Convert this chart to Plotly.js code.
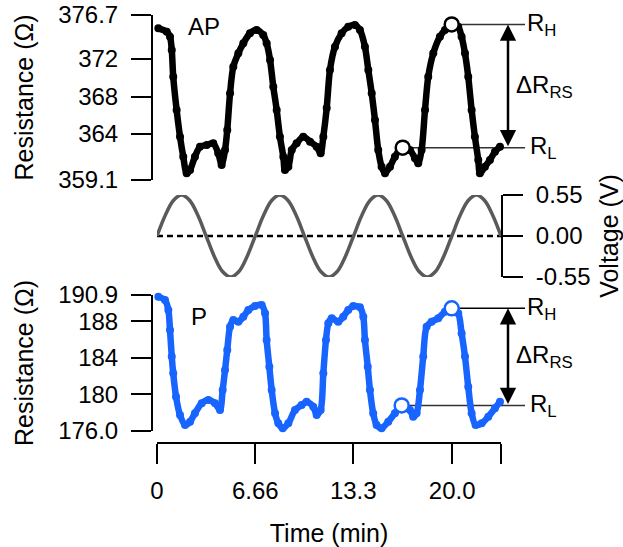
<!DOCTYPE html>
<html>
<head>
<meta charset="utf-8">
<script src="https://cdn.plot.ly/plotly-3.0.1.min.js"></script>
<style>html,body{margin:0;padding:0;background:#fff;}#chart{width:623px;height:547px;}</style>
</head>
<body>
<div id="chart"></div>
<script>
// ---- Data ----
const apTime = [0.09,0.66,0.88,1.00,1.10,1.33,1.56,1.78,2.01,2.24,
  2.57,2.91,3.37,3.81,4.15,4.38,4.61,4.76,4.95,5.17,
  5.51,5.85,6.30,6.75,7.20,7.43,7.66,7.88,8.11,8.33,
  8.56,8.67,8.90,9.13,9.46,9.91,10.37,10.82,11.09,11.27,
  11.50,11.72,12.06,12.51,12.96,13.41,13.75,14.09,14.32,14.55,
  14.77,14.99,15.22,15.45,15.79,16.12,16.58,17.14,17.48,17.70,
  17.93,18.16,18.38,18.72,19.17,19.51,19.97,20.41,20.64,20.87,
  21.09,21.32,21.54,21.77,21.88,22.22,22.56,22.90,23.24];
const apRes = [375.28,374.92,374.39,372.97,370.12,366.57,363.72,361.59,359.81,360.17,
  361.59,362.65,362.83,363.01,361.95,360.70,362.30,364.43,368.35,371.19,
  372.61,373.68,374.75,375.10,374.57,373.68,371.90,369.05,366.57,363.72,
  361.59,360.17,360.52,362.30,363.01,363.72,363.19,362.65,361.95,363.72,
  366.78,370.83,373.32,374.75,375.45,375.63,375.10,373.32,370.83,368.35,
  365.50,362.30,360.52,359.81,360.52,361.59,362.59,362.30,361.41,360.88,
  362.30,366.57,370.12,372.61,374.39,375.10,375.74,375.45,374.39,372.61,
  370.12,366.57,363.72,361.23,359.81,360.52,361.23,362.12,362.65];

const pTime = [0.09,0.54,0.77,0.88,1.00,1.10,1.29,1.56,1.90,2.24,
  2.57,3.03,3.48,3.93,4.27,4.45,4.61,4.76,4.95,5.17,
  5.51,5.85,6.19,6.64,7.09,7.32,7.43,7.61,7.77,8.00,
  8.22,8.52,8.90,9.35,9.80,10.14,10.59,10.82,11.09,11.27,
  11.45,11.61,11.84,12.28,12.62,12.96,13.30,13.75,13.98,14.09,
  14.28,14.43,14.65,14.88,15.22,15.67,16.12,16.58,17.14,17.36,
  17.59,17.82,18.04,18.27,18.61,19.06,19.51,19.97,20.41,20.64,
  20.87,21.09,21.32,21.59,22.00,22.45,22.90,23.24];
const pRes = [190.71,190.35,189.26,187.07,184.15,182.32,179.76,177.75,176.66,177.02,
  177.94,179.04,179.40,179.04,178.30,180.49,182.68,184.87,187.43,188.16,
  187.97,188.52,189.26,189.69,189.80,188.90,185.97,183.05,180.49,177.94,
  176.84,176.30,176.84,178.30,178.85,179.21,178.66,177.75,178.30,182.32,
  185.97,187.80,188.35,187.97,188.52,189.26,189.69,189.55,188.52,185.97,
  183.05,180.49,177.94,176.66,176.30,177.02,177.94,178.85,178.30,177.57,
  177.94,180.49,184.15,187.43,187.97,188.35,189.07,189.44,188.90,186.70,
  184.15,180.85,177.94,176.66,176.84,177.57,178.49,179.21];

const voltTime = [0,0.555,1.11,1.665,2.22,2.775,3.33,3.885,4.44,4.995,5.55,6.105,
  6.66,7.215,7.77,8.325,8.88,9.435,9.99,10.545,11.1,11.655,12.21,12.765,
  13.32,13.875,14.43,14.985,15.54,16.095,16.65,17.205,17.76,18.315,18.87,19.425,
  19.98,20.535,21.09,21.645,22.2,22.755,23.31];
const voltValue = [0,0.275,0.476,0.55,0.476,0.275,0,-0.275,-0.476,-0.55,-0.476,-0.275,
  0,0.275,0.476,0.55,0.476,0.275,0,-0.275,-0.476,-0.55,-0.476,-0.275,
  0,0.275,0.476,0.55,0.476,0.275,0,-0.275,-0.476,-0.55,-0.476,-0.275,
  0,0.275,0.476,0.55,0.476,0.275,0];
const zeroTime = [0, 23.31];
const zeroValue = [0, 0];

// marked points R_H / R_L
const apMarkTime = [19.97, 16.65];
const apMarkRes = [375.70, 362.55];
const pMarkTime = [19.97, 16.58];
const pMarkRes = [189.44, 178.80];

// tick labels
const xTickVals = [0, 6.66, 13.3, 20.0, 23.31];
const xTickText = ["0", "6.66", "13.3", "20.0", " "];
const apTickVals = [359.1, 364, 368, 372, 376.7];
const apTickText = ["359.1", "364", "368", "372", "376.7"];
const pTickVals = [176.0, 180, 184, 188, 190.9];
const pTickText = ["176.0", "180", "184", "188", "190.9"];
const vTickVals = [-0.55, 0, 0.55];
const vTickText = ["-0.55", "0.00", "0.55"];

// ---- Layout geometry ----
const W = 623, H = 547;
const FONT = "Liberation Sans, Arial, Helvetica, sans-serif";
const FS = 24;
const TFS = 25;
const xDomain = [157/W, 501/W];
const xRange = [0, 23.31];
function xPaper(t){ return xDomain[0] + (t - xRange[0])/(xRange[1]-xRange[0])*(xDomain[1]-xDomain[0]); }
const BLUE = "#1764ff";

const traces = [
  {x: apTime, y: apRes, xaxis:'x', yaxis:'y', mode:'lines+markers', type:'scatter',
   line:{color:'#000', width:6.5, shape:'spline', smoothing:0.8}, marker:{color:'#000', size:8}, cliponaxis:false, hoverinfo:'skip'},
  {x: apMarkTime, y: apMarkRes, xaxis:'x', yaxis:'y', mode:'markers', type:'scatter',
   marker:{color:'#fff', size:14, line:{color:'#000', width:2.5}}, cliponaxis:false},
  {x: zeroTime, y: zeroValue, xaxis:'x', yaxis:'y2', mode:'lines', type:'scatter',
   line:{color:'#000', width:2.5, dash:'6px,4px'}},
  {x: voltTime, y: voltValue, xaxis:'x', yaxis:'y2', mode:'lines', type:'scatter',
   line:{color:'#5a5a5a', width:3.5, shape:'spline', smoothing:1}, cliponaxis:false},
  {x: pTime, y: pRes, xaxis:'x', yaxis:'y3', mode:'lines+markers', type:'scatter',
   line:{color:BLUE, width:6.5, shape:'spline', smoothing:0.8}, marker:{color:BLUE, size:8}, cliponaxis:false},
  {x: pMarkTime, y: pMarkRes, xaxis:'x', yaxis:'y3', mode:'markers', type:'scatter',
   marker:{color:'#fff', size:14, line:{color:BLUE, width:2.5}}, cliponaxis:false}
];

const axisCommon = {
  showline:true, linecolor:'#000', linewidth:2, ticks:'outside', ticklen:20, tickwidth:2, tickcolor:'#000',
  showgrid:false, zeroline:false, tickmode:'array', fixedrange:true,
  tickfont:{family:FONT, size:FS, color:'#000'}
};

const lineRight = 525/W, arrowX = 508/W;
const shapes = [
  {type:'line', xref:'paper', yref:'y', x0:xPaper(apMarkTime[0]), x1:lineRight, y0:apMarkRes[0], y1:apMarkRes[0], line:{color:'#333', width:1.5}, layer:'below'},
  {type:'line', xref:'paper', yref:'y', x0:xPaper(apMarkTime[1]), x1:lineRight, y0:apMarkRes[1], y1:apMarkRes[1], line:{color:'#333', width:1.5}, layer:'below'},
  {type:'line', xref:'paper', yref:'y3', x0:xPaper(pMarkTime[0]), x1:lineRight, y0:pMarkRes[0], y1:pMarkRes[0], line:{color:'#000', width:1.5}, layer:'below'},
  {type:'line', xref:'paper', yref:'y3', x0:xPaper(pMarkTime[1]), x1:lineRight, y0:pMarkRes[1], y1:pMarkRes[1], line:{color:'#333', width:1.5}, layer:'below'}
];

function dblArrow(yref, yTop, yBot){
  return {xref:'paper', yref:yref, x:arrowX, y:yTop, axref:'pixel', ax:0, ayref:yref, ay:yBot,
    text:'', showarrow:true, arrowhead:2, startarrowhead:2, arrowside:'end+start', arrowsize:1.3, startarrowsize:1.3,
    arrowwidth:2.5, arrowcolor:'#000', standoff:0, startstandoff:0};
}
function label(yref, y, txt, xpx){
  return {xref:'paper', yref:yref, x:xpx/W, y:y, text:txt, showarrow:false, xanchor:'left', yanchor:'middle',
    font:{family:FONT, size:FS, color:'#000'}};
}
const annotations = [
  dblArrow('y', apMarkRes[0], apMarkRes[1]),
  dblArrow('y3', pMarkRes[0], pMarkRes[1]),
  label('y', apMarkRes[0], 'R<sub>H</sub>', 525),
  label('y', (apMarkRes[0]+apMarkRes[1])/2, 'ΔR<sub>RS</sub>', 514),
  label('y', apMarkRes[1], 'R<sub>L</sub>', 528),
  label('y3', pMarkRes[0], 'R<sub>H</sub>', 525),
  label('y3', (pMarkRes[0]+pMarkRes[1])/2, 'ΔR<sub>RS</sub>', 514),
  label('y3', pMarkRes[1], 'R<sub>L</sub>', 528),
  {xref:'x', yref:'y', x:3.2, y:375.5, text:'AP', showarrow:false, font:{family:FONT, size:FS, color:'#000'}},
  {xref:'x', yref:'y3', x:2.85, y:188.5, text:'P', showarrow:false, font:{family:FONT, size:FS, color:'#000'}}
];

const layout = {
  width:W, height:H, margin:{l:0, r:0, t:0, b:0}, paper_bgcolor:'#fff', plot_bgcolor:'rgba(0,0,0,0)',
  showlegend:false, font:{family:FONT, size:FS, color:'#000'},
  xaxis: Object.assign({}, axisCommon, {domain:xDomain, range:xRange, anchor:'free', position:1-443/H,
    tickvals:xTickVals, ticktext:xTickText, ticklabelstandoff:6,
    title:{text:'Time (min)', font:{family:FONT, size:TFS, color:'#000'}, standoff:22}}),
  yaxis: Object.assign({}, axisCommon, {domain:[1-180/H, 1-15/H], range:[359.1, 376.7], anchor:'free', position:152/W,
    tickvals:apTickVals, ticktext:apTickText, ticklabelstandoff:8,
    title:{text:'Resistance (Ω)', font:{family:FONT, size:TFS, color:'#000'}, standoff:16}}),
  yaxis2: Object.assign({}, axisCommon, {domain:[1-277/H, 1-195/H], range:[-0.55, 0.55], anchor:'free', position:502/W, side:'right',
    tickvals:vTickVals, ticktext:vTickText, ticklabelstandoff:8,
    title:{text:'Voltage (V)', font:{family:FONT, size:TFS, color:'#000'}, standoff:10}}),
  yaxis3: Object.assign({}, axisCommon, {domain:[1-431/H, 1-295/H], range:[176.0, 190.9], anchor:'free', position:152/W,
    tickvals:pTickVals, ticktext:pTickText, ticklabelstandoff:8,
    title:{text:'Resistance (Ω)', font:{family:FONT, size:TFS, color:'#000'}, standoff:16}}),
  shapes:shapes, annotations:annotations
};

Plotly.newPlot('chart', traces, layout, {displayModeBar:false, staticPlot:true});
</script>
</body>
</html>
